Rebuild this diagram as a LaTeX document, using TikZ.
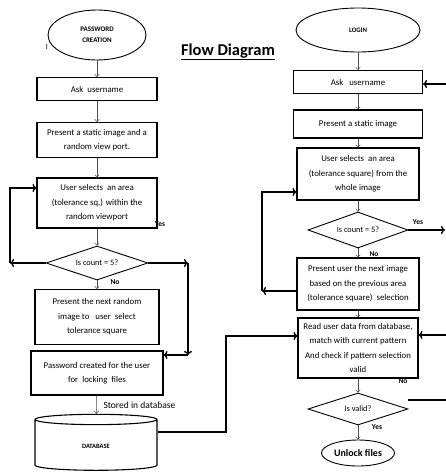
\documentclass[tikz,border=0pt]{standalone}
\usepackage{fontspec}
\setmainfont{Carlito}
\usetikzlibrary{shapes.geometric,arrows.meta}

\begin{document}
\begin{tikzpicture}[x=1pt, y=-1pt,
        stepbox/.style={draw, line width=1.1pt, align=center, inner sep=1pt,
            font=\fontsize{8.8}{14.5}\selectfont},
        terminal/.style={draw, ellipse, line width=0.9pt, align=center, inner sep=0pt},
        decision/.style={draw, diamond, aspect=3, line width=0.9pt, inner sep=0pt,
            font=\fontsize{8.3}{10}\selectfont},
        answer/.style={font=\bfseries\fontsize{7.5}{9}\selectfont},
        flow/.style={-{To[length=3pt,width=5pt]}, gray!60!black, line width=0.5pt},
        loopline/.style={-{To[length=4pt,width=8pt]}, line width=1.4pt}]
    \useasboundingbox (0,0) rectangle (446,472);

    \node[font=\bfseries\fontsize{16.5}{18}\selectfont] (title) at (228,52) {\underline{Flow Diagram}};

    \node[terminal, minimum width=98, minimum height=50, font=\bfseries\fontsize{7}{11}\selectfont]
                                                    (pwd)  at (97,35)  {PASSWORD\\CREATION};
    \node[font=\fontsize{8}{9}\selectfont]           (cur)  at (47,47)  {I};
    \node[stepbox, minimum width=120, minimum height=23] (ask1) at (97,89)  {Ask\ \ username};
    \node[stepbox, minimum width=120, minimum height=35] (img1) at (97,140) {Present a static image and a\\random view port.};
    \node[stepbox, minimum width=120, minimum height=50] (sel1) at (97,203) {User selects\ \ an area\\(tolerance sq.) within the\\random viewport};
    \node[answer]                                   (yes1) at (160,224) {Yes};
    \node[decision, minimum width=102, minimum height=34] (cnt1) at (97,263) {Is count = 5?};
    \node[answer]                                   (no1)  at (115,282) {No};
    \node[stepbox, minimum width=124, minimum height=55] (nxt1) at (97,317) {Present the next random\\image to\ \ \ user\ \ select\\tolerance square};
    \node[stepbox, minimum width=132, minimum height=44] (pwc)  at (97,373) {Password created for the user\\for\ \ locking\ \ files};
    \node[font=\fontsize{9.5}{11}\selectfont, anchor=west] (stored) at (100,405) {Stored in database};
    \node[draw, cylinder, shape border rotate=90, aspect=0.3, line width=1.1pt,
        minimum width=122, minimum height=56, font=\bfseries\fontsize{6.5}{8}\selectfont]
                                                    (db)   at (96,446) {DATABASE};

    \node[terminal, minimum width=124, minimum height=44, font=\bfseries\fontsize{6.8}{9}\selectfont]
                                                    (login) at (358,30)  {LOGIN};
    \node[stepbox, minimum width=129, minimum height=23] (ask2)  at (358,82)  {Ask\ \ \ username};
    \node[stepbox, minimum width=129, minimum height=28] (img2)  at (358,124) {Present a static image};
    \node[stepbox, minimum width=122, minimum height=52] (sel2)  at (358,174) {User selects\ \ an area\\(tolerance square) from the\\whole image};
    \node[decision, minimum width=100, minimum height=36] (cnt2) at (358,230) {Is count = 5?};
    \node[answer]                                   (yes2)  at (418,222) {Yes};
    \node[answer]                                   (no2)   at (374,254) {No};
    \node[stepbox, minimum width=122, minimum height=52] (nxt2)  at (358,284) {Present user the next image\\based on the previous area\\(tolerance square)\ \ selection};
    \node[stepbox, minimum width=120, minimum height=60] (rd)    at (358,348) {Read user data from database,\\match with current pattern\\And check if pattern selection\\valid};
    \node[answer]                                   (no3)   at (403,381) {No};
    \node[decision, minimum width=100, minimum height=32] (vd)   at (358,409) {Is valid?};
    \node[answer]                                   (yes3)  at (377,427) {Yes};
    \node[terminal, minimum width=73, minimum height=26, font=\bfseries\fontsize{10}{12}\selectfont]
                                                    (unlock) at (358,453) {Unlock files};

    \coordinate (l1)  at (10,263);
    \coordinate (l1t) at (10,188);
    \coordinate (r1)  at (188,263);
    \coordinate (r1b) at (188,355);
    \coordinate (j1)  at (226,336);
    \coordinate (l2)  at (262,291);
    \coordinate (l2t) at (262,192);
    \coordinate (e1)  at (446,84);
    \coordinate (e2)  at (445,230);
    \coordinate (e3)  at (446,335);
    \coordinate (e4)  at (446,400);

    \draw[flow] (pwd)  -- (ask1);
    \draw[flow] (ask1) -- (img1);
    \draw[flow] (img1) -- (sel1);
    \draw[flow] (sel1) -- (cnt1);
    \draw[flow] (cnt1) -- (nxt1);
    \draw[flow] (pwc)  -- (db);

    \draw[flow] (login) -- (ask2);
    \draw[flow] (ask2)  -- (img2);
    \draw[flow] (img2)  -- (sel2);
    \draw[flow] (sel2)  -- (cnt2);
    \draw[flow] (cnt2)  -- (nxt2);
    \draw[flow] (nxt2)  -- (rd);
    \draw[flow] (rd)    -- (vd);
    \draw[flow] (vd)    -- (unlock);

    \draw[loopline] (cnt1.west) -- (l1);
    \draw[loopline] (l1) -- (l1t) -- (l1t -| sel1.west);
    \draw[loopline] (cnt1.east) -- (r1);
    \draw[loopline] (r1) -- (r1b);
    \draw[loopline] (r1b) -- (r1b -| pwc.east);
    \draw[loopline] ([yshift=14pt]db.east) -| (j1) -- (j1 -| rd.west);

    \draw[loopline] (l2 -| nxt2.west) -- (l2);
    \draw[loopline] (l2) -- (l2t) -- (l2t -| sel2.west);
    \draw[loopline] (e1) -- (e1 -| ask2.east);
    \draw[loopline] (cnt2.east) -- (e2);
    \draw[loopline] (e3) -- (e3 -| rd.east);
    \draw[line width=1.4pt] (e4 -| vd.east) -- (e4);
\end{tikzpicture}
\end{document}
